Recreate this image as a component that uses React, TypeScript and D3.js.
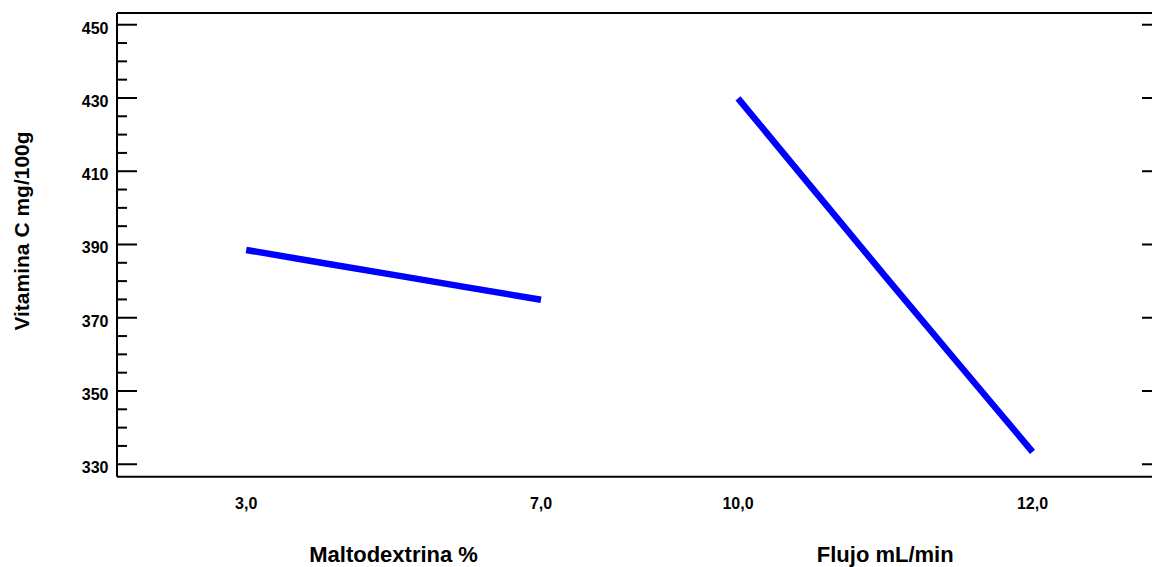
import React from "react";
import * as d3 from "d3";

const factorNames = ["Maltodextrina %", "Flujo mL/min"];
const maltoX = [3, 4, 5, 6, 7];
const maltoY = [388.5, 385.1, 381.7, 378.3, 374.9];
const flujoX = [10, 10.5, 11, 11.5, 12];
const flujoY = [429.9, 405.6, 381.3, 357.3, 333.4];
const maltoTicks = [3, 7];
const flujoTicks = [10, 12];
const yMajorTicks = [330, 350, 370, 390, 410, 430, 450];
const yMinorTicks = d3.range(330, 451, 5);
const yLabel = "Vitamina C mg/100g";

const W = 1152;
const H = 567;
const left = 117;
const right = 1162;
const top = 13;
const bottom = 476.7;
const font = "'Liberation Sans', Arial, sans-serif";

const fmt = (v: number) => v.toFixed(1).replace(".", ",");

export default function App() {
  const y = d3.scaleLinear().domain([326.6, 453.2]).range([bottom, top]);
  const x1 = d3.scaleLinear().domain([3, 7]).range([246.2, 541]);
  const x2 = d3.scaleLinear().domain([10, 12]).range([738, 1032.5]);

  const panels = [
    { name: factorNames[0], xs: maltoX, ys: maltoY, ticks: maltoTicks, sc: x1 },
    { name: factorNames[1], xs: flujoX, ys: flujoY, ticks: flujoTicks, sc: x2 },
  ];

  return (
    <svg
      width={W}
      height={H}
      style={{ position: "absolute", left: 0, top: 0, background: "#fff" }}
    >
      <rect x={0} y={0} width={W} height={H} fill="#fff" />
      {/* frame */}
      <line x1={left} x2={right} y1={top} y2={top} stroke="#000" strokeWidth={2} />
      <line x1={left} x2={right} y1={bottom} y2={bottom} stroke="#000" strokeWidth={2} />
      <line x1={left} x2={left} y1={top} y2={bottom} stroke="#000" strokeWidth={2} />
      <line x1={right} x2={right} y1={top} y2={bottom} stroke="#000" strokeWidth={2} />
      {/* y ticks */}
      {yMinorTicks.map((t) => {
        const major = yMajorTicks.includes(t);
        const len = major ? 20 : 10;
        return (
          <g key={t}>
            <line x1={left} x2={left + len} y1={y(t)} y2={y(t)} stroke="#000" strokeWidth={2} />
            <line x1={right} x2={right - len} y1={y(t)} y2={y(t)} stroke="#000" strokeWidth={2} />
          </g>
        );
      })}
      {yMajorTicks.map((t) => (
        <text
          key={"l" + t}
          x={108.5}
          y={y(t) + 9}
          textAnchor="end"
          fontFamily={font}
          fontWeight="bold"
          fontSize={16}
        >
          {t}
        </text>
      ))}
      <text
        transform={`translate(29,231) rotate(-90)`}
        textAnchor="middle"
        fontFamily={font}
        fontWeight="bold"
        fontSize={21}
      >
        {yLabel}
      </text>
      {panels.map((p, i) => {
        const line = d3
          .line<number>()
          .x((_, j) => p.sc(p.xs[j]))
          .y((v) => y(v));
        const [a, b] = p.sc.range();
        return (
          <g key={i}>
            <path d={line(p.ys) || ""} fill="none" stroke="#0000ff" strokeWidth={6.5} />
            {p.ticks.map((t) => (
              <text
                key={t}
                x={p.sc(t)}
                y={509}
                textAnchor="middle"
                fontFamily={font}
                fontWeight="bold"
                fontSize={16}
              >
                {fmt(t)}
              </text>
            ))}
            <text
              x={(a + b) / 2}
              y={562}
              textAnchor="middle"
              fontFamily={font}
              fontWeight="bold"
              fontSize={22}
            >
              {p.name}
            </text>
          </g>
        );
      })}
    </svg>
  );
}
